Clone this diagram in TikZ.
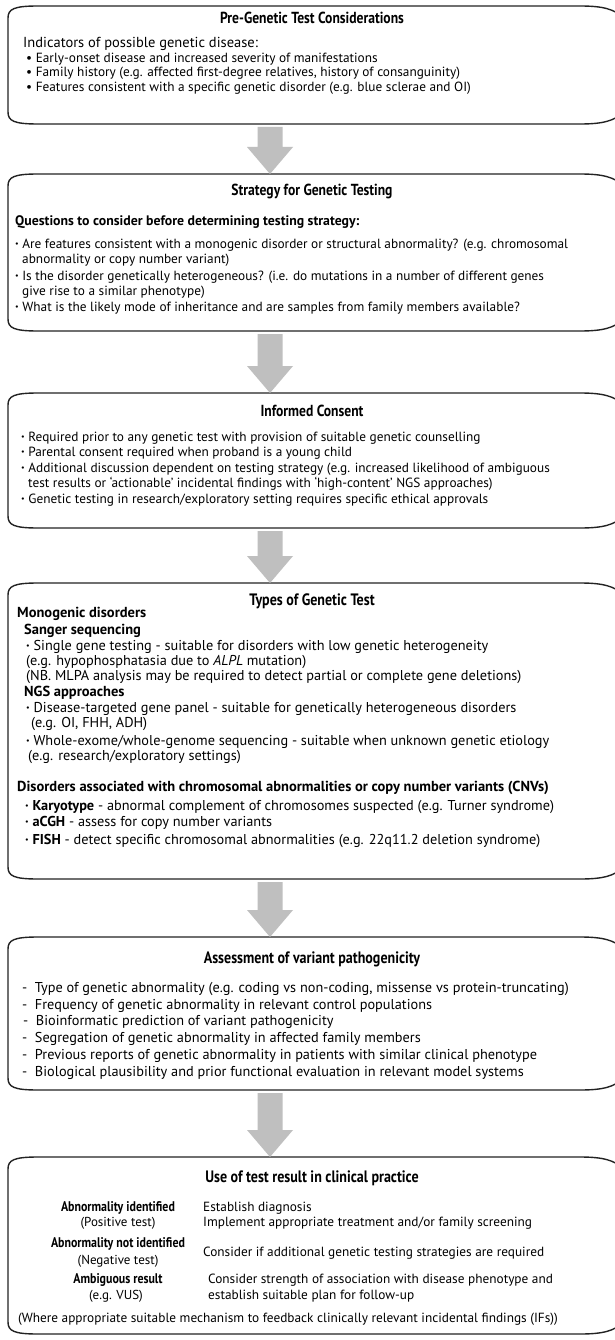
\documentclass[tikz,border=0pt]{standalone}
\usepackage{fontspec}
\setmainfont{PT Sans}
\newfontfamily\condfont[FakeStretch=0.85]{PT Sans}
\newfontfamily\semicondfont[FakeStretch=0.85]{PT Sans}
\usetikzlibrary{calc}
\definecolor{arrowgray}{RGB}{191,191,191}
\definecolor{framecol}{RGB}{35,35,35}
\tikzset{
  body/.style={anchor=base west, inner sep=0pt, font=\fontsize{13.3}{15}\selectfont},
  bodyl/.style={anchor=base west, inner sep=0pt, font=\fontsize{14.3}{15}\selectfont},
  bodyc/.style={anchor=base, inner sep=0pt, font=\fontsize{13}{15}\selectfont},
  bodyb/.style={anchor=base west, inner sep=0pt, font=\fontsize{14.5}{15}\selectfont},
  ttl/.style={anchor=base, inner sep=0pt, font=\fontsize{16}{17}\selectfont\condfont\bfseries},
  ttlb/.style={anchor=base, inner sep=0pt, font=\fontsize{16.5}{17}\selectfont\condfont\bfseries},
  hd/.style={anchor=base west, inner sep=0pt, font=\fontsize{13.8}{15}\selectfont\bfseries},
  hdl/.style={anchor=base west, inner sep=0pt, font=\fontsize{14.5}{15}\selectfont\bfseries},
  hdc/.style={anchor=base, inner sep=0pt, font=\fontsize{14}{15}\selectfont\semicondfont\bfseries},
  frame/.style={draw=framecol, line width=1.4pt},
}
\newcommand\roundbox[3]{%
  \draw[frame] (8,#2+12) .. controls (8,#2+3) and (14,#2) .. (38,#2) -- (580,#2)
    .. controls (603,#2) and (614,#2+3) .. (624,#2+12) -- (624,#3-12)
    .. controls (614,#3-3) and (603,#3) .. (580,#3) -- (38,#3)
    .. controls (14,#3) and (8,#3-3) .. (8,#3-12) -- cycle;
  \coordinate (#1-top) at (270,#2);
  \coordinate (#1-bot) at (270,#3);
}
\newcommand\blockarrow[2]{%
  \fill[arrowgray] let \p1=(#1), \p2=(#2) in
    (\x1-12.5pt,\y1-3pt) -- (\x1+12.5pt,\y1-3pt) -- (\x1+12.5pt,\y2+27pt)
    -- (\x1+23pt,\y2+27pt) -- (\x2,\y2) -- (\x1-23pt,\y2+27pt)
    -- (\x1-12.5pt,\y2+27pt) -- cycle;
}
\newcommand\smbul{{\fontsize{8}{8}\selectfont\raisebox{0.3ex}{•}}}
\begin{document}
\begin{tikzpicture}[x=1pt,y=-1pt]
\useasboundingbox (0,0) rectangle (615,1340);
\clip (0,0) rectangle (615,1340);
\fill[white] (0,0) rectangle (615,1340);

% Box 1
\roundbox{b1}{6}{124}
\node[ttl] (t1) at (312,24) {Pre-Genetic Test Considerations};
\node[bodyb] (t1a) at (23,48) {Indicators of possible genetic disease:};
\node[body] (t1b) at (26,63) {•\ Early-onset disease and increased severity of manifestations};
\node[body] (t1c) at (26,77) {•\ Family history (e.g. affected first-degree relatives, history of consanguinity)};
\node[body] (t1d) at (26,92) {•\ Features consistent with a specific genetic disorder (e.g. blue sclerae and OI)};

% Box 2
\roundbox{b2}{174}{331}
\node[ttl] (t2) at (312,196) {Strategy for Genetic Testing};
\node[hd] (t2a) at (15,226) {Questions to consider before determining testing strategy:};
\node[body] (t2b) at (15,248) {\smbul\ Are features consistent with a monogenic disorder or structural abnormality? (e.g. chromosomal};
\node[body] (t2c) at (22,263) {abnormality or copy number variant)};
\node[body] (t2d) at (15,280) {\smbul\ Is the disorder genetically heterogeneous? (i.e. do mutations in a number of different genes};
\node[body] (t2e) at (22,295) {give rise to a similar phenotype)};
\node[body] (t2f) at (15,311) {\smbul\ What is the likely mode of inheritance and are samples from family members available?};

% Box 3
\roundbox{b3}{393}{528}
\node[ttl] (t3) at (312,416) {Informed Consent};
\node[body] (t3a) at (21,441) {\smbul\ Required prior to any genetic test with provision of suitable genetic counselling};
\node[body] (t3b) at (21,456) {\smbul\ Parental consent required when proband is a young child};
\node[body] (t3c) at (21,472) {\smbul\ Additional discussion dependent on testing strategy (e.g. increased likelihood of ambiguous};
\node[body] (t3d) at (28,487) {test results or ‘actionable’ incidental findings with ‘high-content’ NGS approaches)};
\node[body] (t3e) at (21,503) {\smbul\ Genetic testing in research/exploratory setting requires specific ethical approvals};

% Box 4
\roundbox{b4}{583}{879}
\node[ttlb] (t4) at (312,605) {Types of Genetic Test};
\node[hdl] (t4a) at (17,617) {Monogenic disorders};
\node[hdl] (t4b) at (24,634) {Sanger sequencing};
\node[bodyl] (t4c) at (26,650) {\smbul\ Single gene testing - suitable for disorders with low genetic heterogeneity};
\node[bodyl] (t4d) at (26,665) {(e.g. hypophosphatasia due to \textit{ALPL} mutation)};
\node[bodyl] (t4e) at (26,680) {(NB. MLPA analysis may be required to detect partial or complete gene deletions)};
\node[hdl] (t4f) at (24,696) {NGS approaches};
\node[bodyl] (t4g) at (26,712) {\smbul\ Disease-targeted gene panel - suitable for genetically heterogeneous disorders};
\node[bodyl] (t4h) at (31,727) {(e.g. OI, FHH, ADH)};
\node[bodyl] (t4i) at (26,745) {\smbul\ Whole-exome/whole-genome sequencing - suitable when unknown genetic etiology};
\node[bodyl] (t4j) at (28,760) {(e.g. research/exploratory settings)};
\node[hdl] (t4k) at (17,791) {Disorders associated with chromosomal abnormalities or copy number variants (CNVs)};
\node[bodyl] (t4l) at (25,810) {\smbul\ \textbf{Karyotype} - abnormal complement of chromosomes suspected (e.g. Turner syndrome)};
\node[bodyl] (t4m) at (25,826) {\smbul\ \textbf{aCGH} - assess for copy number variants};
\node[bodyl] (t4n) at (25,844) {\smbul\ \textbf{FISH} - detect specific chromosomal abnormalities (e.g. 22q11.2 deletion syndrome)};

% Box 5
\roundbox{b5}{937}{1090}
\node[ttlb] (t5) at (312,963) {Assessment of variant pathogenicity};
\node[bodyl] (t5a) at (22,992) {-\ \ Type of genetic abnormality (e.g. coding vs non-coding, missense vs protein-truncating)};
\node[bodyl] (t5b) at (22,1009) {-\ \ Frequency of genetic abnormality in relevant control populations};
\node[bodyl] (t5c) at (23,1025) {-\ \ Bioinformatic prediction of variant pathogenicity};
\node[bodyl] (t5d) at (22,1042) {-\ \ Segregation of genetic abnormality in affected family members};
\node[bodyl] (t5e) at (22,1059) {-\ \ Previous reports of genetic abnormality in patients with similar clinical phenotype};
\node[bodyl] (t5f) at (22,1076) {-\ \ Biological plausibility and prior functional evaluation in relevant model systems};

% Box 6
\roundbox{b6}{1157}{1334}
\node[ttlb] (t6) at (312,1182) {Use of test result in clinical practice};
\node[hdc] (t6a) at (118,1211) {Abnormality identified};
\node[bodyc] (t6b) at (118,1226) {(Positive test)};
\node[hdc] (t6c) at (118,1247) {Abnormality not identified};
\node[bodyc] (t6d) at (118,1264) {(Negative test)};
\node[hdc] (t6e) at (118,1283) {Ambiguous result};
\node[bodyc] (t6f) at (116,1299) {(e.g. VUS)};
\node[body] (t6g) at (203,1211) {Establish diagnosis};
\node[body] (t6h) at (203,1226) {Implement appropriate treatment and/or family screening};
\node[body] (t6i) at (203,1256) {Consider if additional genetic testing strategies are required};
\node[body] (t6j) at (208,1283) {Consider strength of association with disease phenotype and};
\node[body] (t6k) at (208,1299) {establish suitable plan for follow-up};
\node[bodyc, font=\fontsize{13.3}{15}\selectfont] (t6l) at (288,1322) {(Where appropriate suitable mechanism to feedback clinically relevant incidental findings (IFs))};

% Arrows
\blockarrow{b1-bot}{b2-top}
\blockarrow{b2-bot}{b3-top}
\blockarrow{b3-bot}{b4-top}
\blockarrow{b4-bot}{b5-top}
\blockarrow{b5-bot}{b6-top}
\end{tikzpicture}
\end{document}
